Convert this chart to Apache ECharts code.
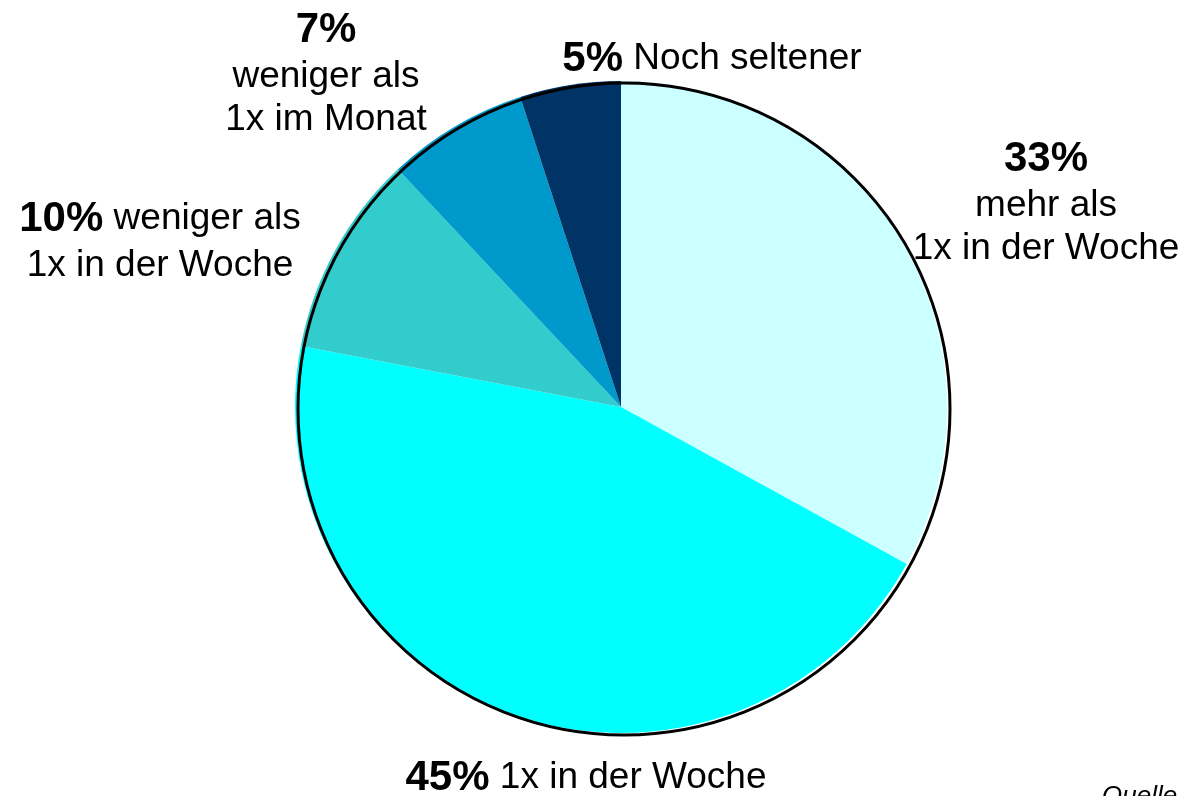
<!DOCTYPE html>
<html>
<head>
<meta charset="utf-8">
<script src="https://cdn.jsdelivr.net/npm/echarts@6/dist/echarts.min.js"></script>
<style>
  html, body { margin: 0; padding: 0; background: #fff; }
  #chart { width: 1187px; height: 796px; }
</style>
</head>
<body>
<div id="chart"></div>
<script>
var categories = ['mehr als 1x in der Woche', '1x in der Woche', 'weniger als 1x in der Woche', 'weniger als 1x im Monat', 'Noch seltener'];
var values = [33, 45, 10, 7, 5];
var colors = ['#ccffff', '#00ffff', '#33cccc', '#0099cc', '#003366'];
// label text pieces, lines after the percentage
var labelText = [
  '\n{t|mehr als}\n{t|1x in der Woche}',
  '{t| 1x in der Woche}',
  '{t| weniger als}\n{t|1x in der Woche}',
  '\n{t|weniger als}\n{t|1x im Monat}',
  '{t| Noch seltener}'
];
// label block anchor (center x, top y)
var labelPos = [[1046, 134], [586, 753], [160, 194], [326, 5], [712, 34]];

var font = '"Liberation Sans", Arial, sans-serif';
var chart = echarts.init(document.getElementById('chart'));

var pieData = values.map(function (v, i) {
  return {
    value: v,
    name: categories[i],
    itemStyle: { color: colors[i] },
    label: { formatter: '{p|' + v + '%}' + labelText[i] }
  };
});

chart.setOption({
  animation: false,
  title: {
    text: 'Quelle',
    left: 1097,
    top: 779,
    textStyle: { fontFamily: font, fontStyle: 'italic', fontWeight: 'normal', fontSize: 26, color: '#000' }
  },
  series: [{
    type: 'pie',
    center: [621, 407],
    radius: 326,
    startAngle: 90,
    clockwise: true,
    silent: true,
    itemStyle: { borderWidth: 0 },
    labelLine: { show: false },
    label: {
      show: true,
      position: 'outside',
      color: '#000',
      align: 'center',
      overflow: 'none',
      fontFamily: font,
      rich: {
        p: { fontFamily: font, fontSize: 42, fontWeight: 'bold', color: '#000', lineHeight: 50 },
        t: { fontFamily: font, fontSize: 37, color: '#000', lineHeight: 43 }
      }
    },
    labelLayout: function (params) {
      var p = labelPos[params.dataIndex];
      return { x: p[0], y: p[1], align: 'center', verticalAlign: 'top', moveOverlap: false, hideOverlap: false };
    },
    data: pieData
  }, {
    // offset outline ring around the pie
    type: 'pie',
    center: [624, 409],
    radius: 326,
    silent: true,
    z: 3,
    label: { show: false },
    labelLine: { show: false },
    itemStyle: { color: 'rgba(0,0,0,0)', borderColor: '#000', borderWidth: 3 },
    data: [{ value: 1, name: 'outline' }]
  }]
});
</script>
</body>
</html>
